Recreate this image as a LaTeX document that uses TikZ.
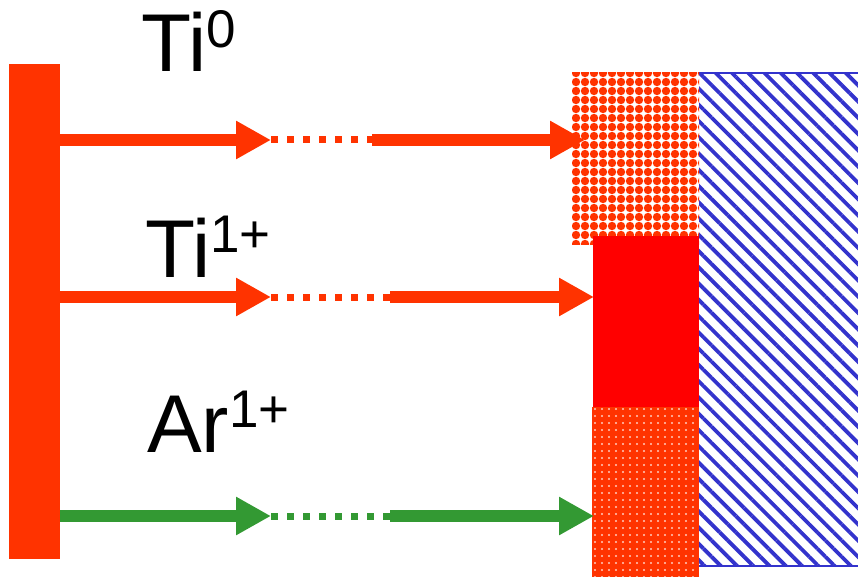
\documentclass[tikz,border=0pt]{standalone}
\usepackage{fontspec}
\setmainfont{Liberation Sans}
\usetikzlibrary{arrows.meta,patterns.meta}
\definecolor{tiorange}{HTML}{FF3300}
\definecolor{tired}{HTML}{FF0000}
\definecolor{argreen}{HTML}{339933}
\definecolor{subblue}{HTML}{3333CC}
\tikzset{
  beam/.style={line width=12pt},
  beamtip/.style={beam,-{Triangle[length=35pt,width=36pt]}},
  beamdots/.style={line width=7pt,dash pattern=on 7pt off 9pt},
  label/.style={anchor=base west,inner sep=0pt,font=\fontsize{82}{82}\selectfont},
  blockbox/.style={inner sep=0pt,outer sep=0pt,anchor=north west}
}
\newcommand{\chg}[1]{\raisebox{24.5pt}{\fontsize{53}{53}\selectfont #1}}
\begin{document}
\begin{tikzpicture}[x=1pt,y=-1pt]
\useasboundingbox (0,0) rectangle (858,577);
% source bar
\node[blockbox,fill=tiorange,minimum width=51pt,minimum height=495pt] (bar) at (9,64) {};
% substrate
\node[blockbox,minimum width=159pt,minimum height=493pt,
  pattern={Lines[angle=-45,distance=11.5pt,line width=3.8pt]},pattern color=subblue] (sub) at (699,73) {};
\draw[subblue,line width=2pt] (sub.north west) -- (sub.north east);
\draw[subblue,line width=2pt] (sub.south west) -- (sub.south east);
% deposited layers
\node[blockbox,minimum width=127pt,minimum height=171pt,
  pattern={Dots[distance=9pt,radius=4.2pt]},pattern color=tiorange] (lay1) at (572,73) {};
\node[blockbox,fill=tired,minimum width=106pt,minimum height=171pt] (lay2) at (593,236) {};
\node[blockbox,fill=tiorange,minimum width=107pt,minimum height=170pt] (lay3) at (592,407) {};
\path[pattern={Dots[distance=7pt,radius=1.1pt]},pattern color=white!75!tiorange] (lay3.north west) rectangle (lay3.south east);
% labels
\node[label] (l0) at (141,72) {Ti\chg{0}};
\node[label] (l1) at (145,277) {Ti\chg{1+}};
\node[label] (l2) at (147,452) {Ar\chg{1+}};
% beam coordinates
\coordinate (a1) at (60,140);  \coordinate (b1) at (271,140); \coordinate (c1) at (372,140); \coordinate (d1) at (585,140);
\coordinate (a2) at (60,297);  \coordinate (b2) at (271,297); \coordinate (c2) at (390,297); \coordinate (d2) at (594,297);
\coordinate (a3) at (60,516);  \coordinate (b3) at (271,516); \coordinate (c3) at (390,516); \coordinate (d3) at (594,516);
% beams
\draw[beamtip,tiorange] (a1) -- (b1);
\draw[beamdots,tiorange] (b1) -- (c1);
\draw[beamtip,tiorange] (c1) -- (d1);
\draw[beamtip,tiorange] (a2) -- (b2);
\draw[beamdots,tiorange] (b2) -- (c2);
\draw[beamtip,tiorange] (c2) -- (d2);
\draw[beamtip,argreen] (a3) -- (b3);
\draw[beamdots,argreen] (b3) -- (c3);
\draw[beamtip,argreen] (c3) -- (d3);
\end{tikzpicture}
\end{document}
